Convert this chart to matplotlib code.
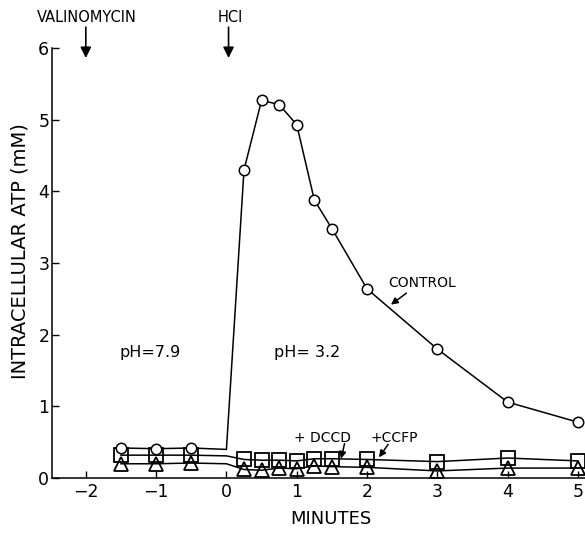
import numpy as np
import matplotlib
matplotlib.use('Agg')
import matplotlib.pyplot as plt

# time in minutes; HCl added at t=0 (the 0 entries carry the line only, no marker)
minutes = [-1.5, -1.0, -0.5, 0.0, 0.25, 0.5, 0.75, 1.0, 1.25, 1.5, 2.0, 3.0, 4.0, 5.0]
control_atp = [0.42, 0.41, 0.42, 0.40, 4.30, 5.27, 5.21, 4.93, 3.88, 3.48, 2.64, 1.80, 1.06, 0.78]
dccd_atp = [0.32, 0.32, 0.32, 0.31, 0.26, 0.25, 0.25, 0.24, 0.27, 0.27, 0.26, 0.23, 0.28, 0.24]
ccfp_atp = [0.20, 0.20, 0.21, 0.20, 0.12, 0.11, 0.14, 0.13, 0.17, 0.16, 0.15, 0.10, 0.14, 0.14]

x_ticks = [-2, -1, 0, 1, 2, 3, 4, 5]
y_ticks = [0, 1, 2, 3, 4, 5, 6]

# indices that get a marker (skip t=0)
marked = [i for i, t in enumerate(minutes) if t != 0.0]

plt.rcParams['font.family'] = ['DejaVu Sans']

fig = plt.figure(figsize=(5.85, 5.33), dpi=100)
ax = fig.add_axes([0.089, 0.103, 0.911, 0.807])

ax.plot(minutes, ccfp_atp, color='k', lw=1.1, marker='^', markevery=marked, ms=10,
        mfc='none', mec='k', mew=1.3, clip_on=False, zorder=3)
ax.plot(minutes, dccd_atp, color='k', lw=1.1, marker='s', markevery=marked, ms=9.5,
        mfc='none', mec='k', mew=1.3, clip_on=False, zorder=4)
ax.plot(minutes, control_atp, color='k', lw=1.1, marker='o', markevery=marked, ms=7.5,
        mfc='white', mec='k', mew=1.1, clip_on=False, zorder=5)

ax.set_xlim(-2.48, 5.1)
ax.set_ylim(0, 6)
ax.set_xticks(x_ticks)
ax.set_xticklabels(['\u22122', '\u22121', '0', '1', '2', '3', '4', '5'])
ax.set_yticks(y_ticks)
ax.tick_params(direction='in', length=5, width=1, labelsize=12.5)
ax.tick_params(axis='y', pad=2)

for side in ['top', 'right']:
    ax.spines[side].set_visible(False)
ax.spines['left'].set_linewidth(1.1)
ax.spines['bottom'].set_linewidth(1.1)

ax.set_xlabel('MINUTES', fontsize=13)
ax.set_ylabel('INTRACELLULAR ATP (mM)', fontsize=14)
ax.xaxis.set_label_coords(0.523, -0.073)
ax.yaxis.set_label_coords(-0.043, 0.528)

# additions at the top
arrow = dict(arrowstyle='-|>', mutation_scale=16, color='k', lw=1.2, shrinkA=0, shrinkB=0)
ax.text(-1.98, 6.43, 'VALINOMYCIN', ha='center', va='center', fontsize=10.5)
ax.annotate('', xy=(-2.0, 5.86), xytext=(-2.0, 6.29), arrowprops=arrow, annotation_clip=False)
ax.text(0.05, 6.43, 'HCl', ha='center', va='center', fontsize=10.5)
ax.annotate('', xy=(0.03, 5.86), xytext=(0.03, 6.29), arrowprops=arrow, annotation_clip=False)

# in-plot labels
ax.text(-1.52, 1.75, 'pH=7.9', ha='left', va='center', fontsize=11.5)
ax.text(0.68, 1.75, 'pH= 3.2', ha='left', va='center', fontsize=11.5)

small_arrow = dict(arrowstyle='-|>', mutation_scale=10, color='k', lw=1.1, shrinkA=0, shrinkB=0)
ax.text(2.3, 2.72, 'CONTROL', ha='left', va='center', fontsize=10)
ax.annotate('', xy=(2.34, 2.42), xytext=(2.56, 2.58), arrowprops=small_arrow)
ax.text(0.96, 0.56, '+ DCCD', ha='left', va='center', fontsize=10)
ax.annotate('', xy=(1.63, 0.27), xytext=(1.68, 0.48), arrowprops=small_arrow)
ax.text(2.05, 0.56, '+CCFP', ha='left', va='center', fontsize=10)
ax.annotate('', xy=(2.17, 0.29), xytext=(2.3, 0.47), arrowprops=small_arrow)

fig.savefig('out.png', dpi=100)
